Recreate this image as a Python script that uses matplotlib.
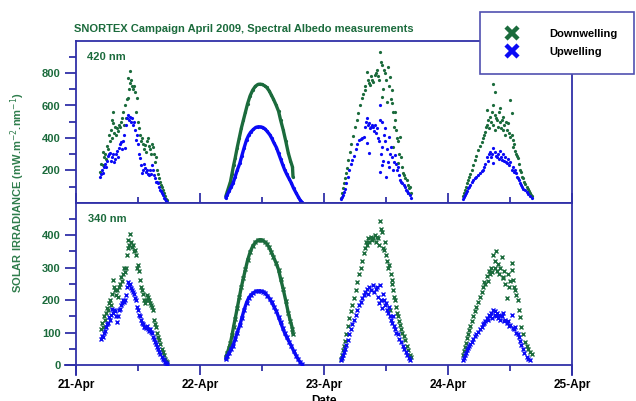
import matplotlib
matplotlib.use('Agg')
import matplotlib.pyplot as plt
import matplotlib.dates as mdates
from matplotlib.ticker import FixedLocator
from matplotlib.lines import Line2D
import datetime as dt
import numpy as np

plt.rcParams['font.family'] = ['Liberation Sans', 'DejaVu Sans']

GREEN = '#1b6b3c'
LGREEN = '#2f7d4c'
BLUE = '#0a0af5'
AXC = '#3030a8'

title = 'SNORTEX Campaign April 2009, Spectral Albedo measurements'
ylabel = 'SOLAR IRRADIANCE (mW.m$^{-2}$.nm$^{-1}$)'
xlabel = 'Date'
labels = ['Downwelling', 'Upwelling']
panel_names = ['420 nm', '340 nm']
top_yticks = [200, 400, 600, 800]
top_yminor = [100, 300, 500, 700, 900]
bot_yticks = [0, 100, 200, 300, 400]
bot_yminor = [50, 150, 250, 350, 450]

# ---------------- 420 nm : Downwelling (hours UTC, values) ----------------
d420_21_h = [4.6, 4.8, 5.2, 5.2, 5.4, 5.6, 5.8, 6.0, 6.2, 6.4, 6.6, 6.8, 7.0, 7.0, 7.2, 7.2, 7.4, 7.5, 7.7, 7.9, 8.1, 8.3, 8.5, 8.7, 8.9, 9.1, 9.3, 9.5, 9.7, 9.9, 10.1, 10.1, 10.3, 10.4, 10.4, 10.6, 10.8, 11.0, 11.2, 11.4, 11.6, 11.8, 12.0, 12.2, 12.4, 12.6, 12.8, 13.0, 13.2, 13.4, 13.5, 13.7, 13.9, 14.1, 14.3, 14.5, 14.7, 14.9, 15.1, 15.3, 15.5, 15.7, 15.9, 16.1, 16.3, 16.4, 16.6, 16.8, 17.0, 17.2, 17.4, 17.6]
d420_21_v = [190, 240, 315, 232, 280, 300, 270, 350, 330, 420, 380, 450, 510, 400, 561, 491, 430, 470, 420, 460, 440, 480, 470, 500, 520, 560, 480, 600, 520, 640, 767, 644, 700, 814, 737, 760, 720, 700, 720, 685, 560, 644, 500, 460, 420, 380, 400, 360, 330, 356, 310, 380, 397, 350, 330, 300, 360, 345, 300, 250, 284, 200, 180, 150, 130, 110, 99, 80, 60, 40, 25, 17]
d420_22_h = [5.0, 5.3, 5.6, 5.9, 6.2, 6.5, 6.8, 7.2, 7.6, 8.0, 8.4, 8.8, 9.2, 9.7, 10.2, 10.7, 11.2, 11.6, 12.0, 12.5, 12.9, 13.4, 13.8, 14.2, 14.7, 15.2, 15.6, 16.1, 16.6, 17.1, 17.5, 17.9, 18.0]
d420_22_v = [40, 70, 100, 130, 180, 230, 274, 340, 400, 460, 510, 560, 610, 660, 695, 718, 730, 732, 730, 722, 712, 690, 665, 640, 605, 565, 510, 450, 380, 305, 260, 220, 160]
d420_23_h = [3.2, 3.4, 3.6, 3.8, 4.0, 4.2, 4.4, 4.7, 5.0, 5.3, 5.6, 6.0, 6.3, 6.6, 7.0, 7.3, 7.6, 7.9, 8.0, 8.3, 8.5, 8.7, 8.9, 9.1, 9.3, 9.5, 9.8, 10.0, 10.2, 10.4, 10.6, 10.8, 11.0, 11.2, 11.2, 11.4, 11.6, 11.8, 12.0, 12.2, 12.4, 12.6, 12.8, 13.0, 13.1, 13.1, 13.3, 13.4, 13.5, 13.7, 13.7, 13.9, 14.1, 14.3, 14.4, 14.5, 14.7, 14.9, 15.1, 15.3, 15.5, 15.7, 16.0, 16.2, 16.3, 16.4, 16.6, 16.8]
d420_23_v = [30, 58, 90, 120, 150, 185, 215, 263, 310, 360, 410, 469, 510, 555, 600, 644, 670, 695, 720, 808, 760, 740, 726, 780, 760, 747, 790, 800, 819, 780, 760, 932, 870, 850, 654, 700, 820, 800, 760, 620, 839, 720, 777, 640, 695, 613, 560, 345, 470, 561, 510, 450, 400, 380, 243, 300, 407, 280, 220, 181, 170, 150, 140, 110, 58, 90, 99, 60]
d420_24_h = [2.9, 3.1, 3.3, 3.5, 3.7, 3.9, 4.1, 4.3, 4.6, 4.9, 5.2, 5.5, 5.9, 6.2, 6.5, 6.8, 7.0, 7.2, 7.4, 7.5, 7.6, 7.8, 8.0, 8.2, 8.4, 8.5, 8.7, 8.8, 8.8, 9.0, 9.1, 9.1, 9.3, 9.4, 9.6, 9.8, 10.0, 10.1, 10.3, 10.4, 10.6, 10.7, 10.9, 11.1, 11.3, 11.5, 11.7, 11.9, 12.0, 12.0, 12.3, 12.4, 12.6, 12.6, 12.8, 13.0, 13.2, 13.4, 13.6, 13.8, 13.9, 14.1, 14.3, 14.5, 14.7, 14.9, 15.2, 15.4, 15.6, 15.9, 16.1, 16.3]
d420_24_v = [40, 60, 78, 95, 120, 140, 160, 180, 202, 230, 263, 290, 325, 350, 376, 400, 420, 438, 470, 572, 480, 510, 460, 530, 500, 561, 480, 732, 603, 540, 685, 449, 520, 510, 470, 560, 500, 582, 460, 510, 530, 449, 480, 420, 500, 450, 490, 430, 634, 407, 552, 420, 387, 345, 360, 320, 300, 290, 274, 240, 202, 190, 160, 150, 130, 115, 99, 85, 70, 58, 45, 40]

# ---------------- 420 nm : Upwelling ----------------
u420_21_h = [4.6, 4.8, 5.0, 5.2, 5.4, 5.6, 5.8, 6.0, 6.2, 6.4, 6.6, 6.8, 7.0, 7.2, 7.4, 7.5, 7.7, 7.9, 8.1, 8.3, 8.5, 8.7, 8.9, 9.1, 9.3, 9.5, 9.7, 9.9, 10.1, 10.3, 10.4, 10.6, 10.8, 11.0, 11.2, 11.4, 11.6, 11.8, 12.0, 12.2, 12.4, 12.6, 12.8, 13.0, 13.2, 13.4, 13.5, 13.7, 13.9, 14.1, 14.3, 14.5, 14.7, 14.9, 15.1, 15.3, 15.5, 15.7, 15.9, 16.1, 16.3, 16.4, 16.6, 16.8, 17.0, 17.2, 17.4, 17.6]
u420_21_v = [160, 180, 200, 181, 220, 240, 222, 260, 290, 300, 305, 260, 280, 300, 250, 270, 300, 320, 284, 340, 360, 376, 330, 380, 420, 336, 480, 520, 540, 510, 530, 500, 520, 480, 500, 450, 387, 420, 360, 300, 274, 230, 181, 200, 240, 212, 190, 200, 180, 170, 200, 180, 232, 200, 170, 150, 130, 130, 120, 100, 78, 70, 60, 45, 30, 20, 8, 3]
u420_22_h = [5.0, 5.3, 5.6, 6.0, 6.4, 6.8, 7.2, 7.7, 8.1, 8.5, 9.0, 9.4, 9.8, 10.3, 10.8, 11.3, 11.8, 12.2, 12.6, 13.0, 13.5, 13.9, 14.3, 14.8, 15.2, 15.6, 16.0, 16.4, 16.8, 17.3, 17.7, 18.1, 18.6, 19.0, 19.4, 19.7]
u420_22_v = [30, 50, 70, 95, 120, 160, 200, 243, 290, 335, 387, 415, 435, 452, 465, 469, 468, 464, 455, 440, 420, 397, 370, 340, 305, 270, 235, 202, 175, 145, 120, 90, 60, 37, 15, 5]
u420_23_h = [3.2, 3.4, 3.6, 3.8, 4.0, 4.3, 4.6, 4.9, 5.2, 5.5, 5.8, 6.1, 6.4, 6.8, 7.1, 7.4, 7.8, 8.0, 8.2, 8.4, 8.4, 8.6, 8.7, 8.7, 8.9, 9.1, 9.3, 9.5, 9.7, 9.9, 10.0, 10.2, 10.4, 10.6, 10.8, 10.8, 10.8, 11.0, 11.2, 11.2, 11.2, 11.4, 11.6, 11.8, 11.9, 12.0, 12.2, 12.4, 12.6, 12.6, 12.8, 12.9, 13.1, 13.3, 13.5, 13.7, 13.9, 14.1, 14.4, 14.5, 14.7, 14.9, 15.1, 15.4, 15.6, 15.8, 16.0, 16.3, 16.6, 16.8]
u420_23_v = [20, 37, 50, 65, 85, 120, 160, 200, 240, 263, 290, 330, 360, 387, 395, 400, 407, 470, 500, 521, 366, 480, 490, 305, 460, 470, 480, 469, 440, 480, 430, 459, 400, 380, 603, 510, 191, 300, 500, 345, 232, 260, 420, 380, 459, 160, 330, 250, 407, 222, 300, 345, 280, 200, 250, 294, 240, 200, 222, 170, 140, 130, 120, 110, 99, 80, 70, 58, 47, 30]
u420_24_h = [2.9, 3.1, 3.3, 3.5, 3.7, 3.9, 4.1, 4.3, 4.6, 4.9, 5.2, 5.5, 5.8, 6.2, 6.5, 6.8, 7.0, 7.2, 7.5, 7.7, 7.9, 8.1, 8.3, 8.5, 8.8, 8.8, 9.0, 9.2, 9.4, 9.6, 9.8, 10.0, 10.2, 10.4, 10.6, 10.8, 11.0, 11.2, 11.4, 11.6, 11.8, 12.0, 12.3, 12.5, 12.7, 12.9, 13.1, 13.3, 13.5, 13.7, 13.9, 14.1, 14.4, 14.6, 14.9, 15.2, 15.5, 15.9, 16.2]
u420_24_v = [25, 35, 47, 60, 75, 89, 100, 112, 125, 140, 150, 160, 172, 181, 195, 202, 220, 240, 284, 260, 300, 315, 280, 300, 336, 243, 310, 290, 284, 300, 270, 320, 280, 263, 300, 260, 280, 250, 243, 270, 230, 250, 202, 220, 190, 200, 181, 160, 150, 140, 120, 110, 95, 85, 78, 65, 55, 41, 30]

# ---------------- 340 nm : Downwelling ----------------
d340_21_h = [4.8, 5.0, 5.2, 5.4, 5.6, 5.8, 6.0, 6.2, 6.4, 6.6, 6.8, 7.0, 7.2, 7.4, 7.5, 7.7, 7.9, 8.1, 8.3, 8.5, 8.7, 8.9, 9.1, 9.3, 9.5, 9.7, 9.9, 10.1, 10.1, 10.3, 10.4, 10.6, 10.8, 11.0, 11.2, 11.4, 11.6, 11.8, 12.0, 12.2, 12.4, 12.6, 12.8, 13.0, 13.2, 13.4, 13.5, 13.7, 13.9, 14.1, 14.3, 14.5, 14.7, 14.9, 15.1, 15.3, 15.5, 15.7, 15.9, 16.1, 16.3, 16.6, 16.8, 17.0, 17.2, 17.4, 17.6]
d340_21_v = [110, 130, 118, 150, 138, 160, 175, 169, 190, 200, 185, 220, 262, 240, 231, 215, 230, 210, 240, 250, 270, 260, 280, 300, 287, 300, 338, 385, 360, 370, 405, 380, 364, 370, 350, 354, 340, 300, 308, 290, 262, 240, 230, 220, 200, 190, 200, 215, 210, 200, 190, 185, 179, 170, 140, 125, 118, 100, 85, 77, 65, 50, 40, 30, 20, 12, 8]
d340_22_h = [5.0, 5.3, 5.6, 5.9, 6.2, 6.5, 6.8, 7.2, 7.6, 8.0, 8.4, 8.8, 9.2, 9.7, 10.2, 10.7, 11.2, 11.6, 12.0, 12.5, 12.9, 13.4, 13.8, 14.2, 14.7, 15.2, 15.6, 16.1, 16.6, 17.1, 17.5, 17.9, 18.0]
d340_22_v = [25, 38, 52, 68, 92, 118, 142, 175, 208, 240, 268, 295, 322, 348, 366, 378, 384, 386, 385, 380, 374, 362, 348, 334, 315, 294, 266, 234, 198, 160, 135, 112, 95]
d340_23_h = [3.2, 3.4, 3.6, 3.8, 4.0, 4.3, 4.6, 4.9, 5.2, 5.5, 5.8, 6.1, 6.4, 6.8, 7.1, 7.4, 7.8, 8.0, 8.2, 8.4, 8.6, 8.8, 9.0, 9.3, 9.5, 9.8, 10.0, 10.2, 10.4, 10.6, 10.8, 11.0, 11.2, 11.4, 11.6, 11.8, 12.0, 12.2, 12.4, 12.6, 12.8, 12.9, 13.1, 13.2, 13.4, 13.6, 13.7, 13.9, 14.1, 14.3, 14.5, 14.7, 14.9, 15.1, 15.4, 15.7, 16.0, 16.3, 16.6, 16.8]
d340_23_v = [20, 30, 45, 60, 75, 95, 120, 145, 165, 185, 205, 230, 255, 280, 300, 320, 345, 360, 380, 370, 390, 380, 395, 385, 390, 400, 380, 395, 390, 370, 445, 420, 410, 360, 354, 380, 340, 320, 300, 308, 169, 280, 250, 262, 230, 210, 200, 180, 160, 150, 135, 123, 110, 100, 90, 77, 60, 45, 31, 25]
d340_24_h = [2.9, 3.1, 3.3, 3.5, 3.7, 3.9, 4.1, 4.3, 4.6, 4.9, 5.2, 5.5, 5.9, 6.2, 6.5, 6.8, 7.0, 7.2, 7.5, 7.7, 7.9, 8.1, 8.3, 8.5, 8.8, 9.0, 9.1, 9.3, 9.5, 9.7, 9.9, 10.1, 10.4, 10.6, 10.7, 10.9, 11.1, 11.4, 11.6, 11.8, 12.0, 12.3, 12.3, 12.6, 12.8, 13.0, 13.2, 13.5, 13.7, 13.9, 14.2, 14.5, 14.9, 15.2, 15.5, 15.9, 16.2]
d340_24_v = [30, 42, 55, 68, 82, 95, 108, 120, 135, 150, 165, 180, 195, 210, 225, 240, 255, 250, 275, 260, 290, 280, 300, 285, 340, 300, 320, 350, 290, 310, 280, 300, 333, 270, 267, 290, 250, 205, 280, 240, 260, 315, 292, 262, 240, 231, 215, 200, 170, 149, 118, 95, 72, 60, 50, 41, 35]

# ---------------- 340 nm : Upwelling ----------------
u340_21_h = [4.8, 5.0, 5.2, 5.4, 5.6, 5.8, 6.0, 6.2, 6.4, 6.6, 6.8, 7.0, 7.2, 7.4, 7.5, 7.7, 7.9, 8.1, 8.3, 8.5, 8.7, 8.9, 9.1, 9.3, 9.5, 9.7, 9.9, 10.1, 10.3, 10.4, 10.6, 10.8, 11.0, 11.2, 11.4, 11.6, 11.8, 12.0, 12.2, 12.4, 12.6, 12.8, 13.0, 13.2, 13.4, 13.5, 13.7, 13.9, 14.1, 14.3, 14.5, 14.7, 14.9, 15.1, 15.3, 15.5, 15.7, 15.9, 16.1, 16.3, 16.6, 16.8, 17.0, 17.2, 17.4, 17.6]
u340_21_v = [80, 90, 87, 100, 105, 118, 125, 130, 149, 140, 155, 174, 160, 170, 165, 150, 133, 150, 170, 174, 185, 190, 200, 195, 200, 215, 240, 256, 245, 250, 236, 230, 225, 220, 205, 200, 180, 170, 154, 150, 140, 130, 125, 118, 118, 115, 120, 110, 105, 110, 102, 100, 87, 80, 72, 65, 56, 50, 40, 35, 26, 20, 14, 10, 6, 3]
u340_22_h = [5.0, 5.3, 5.6, 6.0, 6.4, 6.8, 7.2, 7.7, 8.1, 8.5, 9.0, 9.4, 9.8, 10.3, 10.8, 11.3, 11.8, 12.2, 12.6, 13.0, 13.5, 13.9, 14.3, 14.8, 15.2, 15.6, 16.0, 16.4, 16.8, 17.3, 17.7, 18.1, 18.6, 19.0, 19.4, 19.7]
u340_22_v = [18, 27, 36, 48, 60, 80, 100, 122, 145, 168, 192, 206, 215, 222, 227, 228, 228, 226, 222, 214, 204, 193, 180, 165, 148, 131, 114, 98, 85, 70, 58, 44, 29, 18, 8, 3]
u340_23_h = [3.2, 3.4, 3.6, 3.8, 4.0, 4.3, 4.6, 4.9, 5.2, 5.5, 5.8, 6.1, 6.4, 6.8, 7.1, 7.4, 7.8, 8.0, 8.3, 8.6, 8.8, 9.1, 9.4, 9.7, 10.0, 10.2, 10.4, 10.6, 10.8, 11.0, 11.2, 11.4, 11.6, 11.8, 12.0, 12.2, 12.4, 12.6, 12.8, 13.0, 13.2, 13.4, 13.6, 13.8, 14.0, 14.3, 14.6, 14.9, 15.2, 15.5, 15.8, 16.1, 16.4, 16.7]
u340_23_v = [15, 22, 30, 40, 50, 62, 78, 95, 110, 125, 140, 155, 170, 185, 195, 205, 215, 225, 235, 220, 240, 230, 245, 225, 235, 240, 210, 190, 245, 200, 175, 220, 200, 185, 190, 170, 160, 180, 150, 140, 130, 150, 120, 110, 100, 95, 80, 70, 60, 50, 40, 30, 22, 15]
u340_24_h = [2.9, 3.1, 3.3, 3.5, 3.7, 3.9, 4.1, 4.3, 4.6, 4.9, 5.2, 5.5, 5.9, 6.2, 6.5, 6.8, 7.0, 7.2, 7.5, 7.7, 7.9, 8.1, 8.3, 8.5, 8.8, 9.0, 9.1, 9.3, 9.5, 9.7, 9.9, 10.1, 10.4, 10.7, 10.9, 11.1, 11.4, 11.6, 11.8, 12.0, 12.3, 12.5, 12.8, 13.0, 13.2, 13.5, 13.7, 13.9, 14.2, 14.5, 14.8, 15.2, 15.5, 15.9]
u340_24_v = [15, 22, 30, 38, 45, 52, 58, 65, 72, 80, 88, 95, 102, 110, 118, 125, 130, 135, 145, 140, 155, 150, 160, 145, 170, 155, 165, 150, 160, 145, 155, 140, 150, 159, 135, 140, 128, 135, 120, 123, 154, 115, 110, 118, 100, 97, 85, 75, 62, 50, 38, 26, 20, 15]

series = {
    '420': {
        'down': [(21, d420_21_h, d420_21_v), (22, d420_22_h, d420_22_v), (23, d420_23_h, d420_23_v), (24, d420_24_h, d420_24_v)],
        'up': [(21, u420_21_h, u420_21_v), (22, u420_22_h, u420_22_v), (23, u420_23_h, u420_23_v), (24, u420_24_h, u420_24_v)],
    },
    '340': {
        'down': [(21, d340_21_h, d340_21_v), (22, d340_22_h, d340_22_v), (23, d340_23_h, d340_23_v), (24, d340_24_h, d340_24_v)],
        'up': [(21, u340_21_h, u340_21_v), (22, u340_22_h, u340_22_v), (23, u340_23_h, u340_23_v), (24, u340_24_h, u340_24_v)],
    },
}


def to_num(day, hours):
    return mdates.date2num(dt.datetime(2009, 4, day)) + np.asarray(hours, float) / 24.0


W, H = 636, 401
fig = plt.figure(figsize=(W / 100, H / 100), dpi=100)
L, R = 76 / W, 572 / W
ax1 = fig.add_axes([L, 1 - 202.7 / H, R - L, (202.7 - 40.7) / H])
ax2 = fig.add_axes([L, 1 - 365 / H, R - L, (365 - 202.7) / H])

x0 = mdates.date2num(dt.datetime(2009, 4, 21))
x1 = mdates.date2num(dt.datetime(2009, 4, 25))

for ax, key, ymax, marker, ms, mew in [(ax1, '420', 1000, 'o', 2.3, 0), (ax2, '340', 500, 'x', 3.0, 1.0)]:
    for kind, col in [('down', GREEN), ('up', BLUE)]:
        z = 2 if kind == 'down' else 3
        for day, hh, vv in series[key][kind]:
            x = to_num(day, hh)
            if day == 22:
                ax.plot(x, vv, '-', color=col, lw=2.4, solid_capstyle='round', zorder=z)
            ax.plot(x, vv, ls='none', marker=marker, ms=ms, mew=mew, color=col, mec=col, zorder=z)
    ax.set_xlim(x0, x1)
    ax.set_ylim(0, ymax)
    for s in ax.spines.values():
        s.set_color(AXC)
        s.set_linewidth(1.3)
    ax.xaxis.set_major_locator(mdates.DayLocator())
    ax.xaxis.set_minor_locator(mdates.HourLocator(byhour=[12]))
    ax.xaxis.set_major_formatter(mdates.DateFormatter('%d-%b'))
    ax.tick_params(axis='both', which='both', colors=AXC, width=1.3)
    ax.tick_params(axis='y', which='major', length=8, direction='out', labelcolor=GREEN, labelsize=8, pad=3)
    ax.tick_params(axis='y', which='minor', length=5, direction='out')
    ax.tick_params(axis='x', which='major', length=7.5)
    ax.tick_params(axis='x', which='minor', length=4.5)

# top panel
ax1.yaxis.set_major_locator(FixedLocator(top_yticks))
ax1.yaxis.set_minor_locator(FixedLocator(top_yminor))
ax1.tick_params(axis='x', which='both', direction='in', labelbottom=False)
ax1.text(0.022, 0.9, panel_names[0], transform=ax1.transAxes,
         color=GREEN, fontsize=8, fontweight='bold', va='center', ha='left')

# bottom panel
ax2.yaxis.set_major_locator(FixedLocator(bot_yticks))
ax2.yaxis.set_minor_locator(FixedLocator(bot_yminor))
ax2.tick_params(axis='x', which='both', direction='out', labelcolor='black', labelsize=8.5, pad=2.5)
ax2.text(0.024, 0.9, panel_names[1], transform=ax2.transAxes,
         color=GREEN, fontsize=8, fontweight='bold', va='center', ha='left')
ax2.spines['left'].set_bounds(-31, 500)
ax2.spines['right'].set_bounds(-31, 500)
ax2.spines['bottom'].set_bounds(x0 - 0.09, x1)

for ax in (ax1, ax2):
    for lab in ax.get_yticklabels() + ax.get_xticklabels():
        lab.set_fontweight('bold')

fig.text(74 / W, 1 - 29 / H, title, color=GREEN, fontsize=8, fontweight='bold', va='center', ha='left')
fig.text(18 / W, 1 - 193 / H, ylabel, color=LGREEN, fontsize=8, fontweight='bold',
         rotation=90, va='center', ha='center')
fig.text(324 / W, 1 - 395 / H, xlabel, color='black', fontsize=8.5, fontweight='bold', va='top', ha='center')

handles = [Line2D([], [], ls='none', marker='x', ms=8, mew=3.2, color=GREEN),
           Line2D([], [], ls='none', marker='x', ms=8, mew=3.2, color=BLUE)]
leg = fig.legend(handles, labels, loc='upper left', bbox_to_anchor=(480 / W, 1 - 12 / H),
                 frameon=True, fancybox=False, edgecolor='#5050b0', framealpha=1,
                 prop={'size': 8, 'weight': 'bold'}, borderpad=1.5, handlelength=2.8,
                 handletextpad=1.9, labelspacing=0.75, borderaxespad=0)
leg.get_frame().set_linewidth(1.2)
leg.set_zorder(10)

fig.savefig('out.png', dpi=100)
